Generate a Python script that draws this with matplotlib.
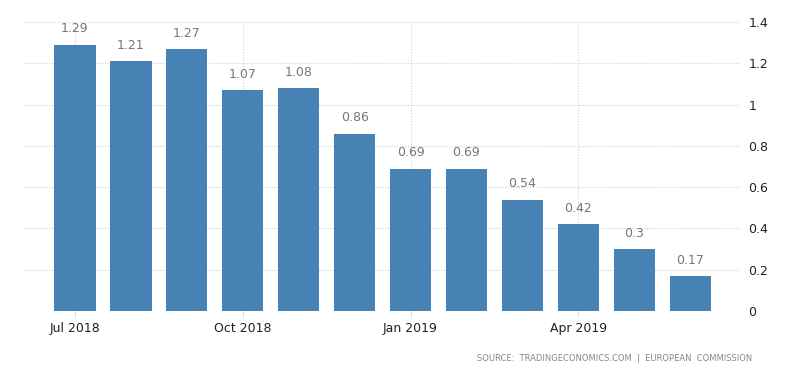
import numpy as np
import matplotlib.pyplot as plt

months = ["Jul 2018", "Aug 2018", "Sep 2018", "Oct 2018", "Nov 2018", "Dec 2018",
          "Jan 2019", "Feb 2019", "Mar 2019", "Apr 2019", "May 2019", "Jun 2019"]
values = [1.29, 1.21, 1.27, 1.07, 1.08, 0.86, 0.69, 0.69, 0.54, 0.42, 0.3, 0.17]
tick_idx = [0, 3, 6, 9]
y_ticks = [0, 0.2, 0.4, 0.6, 0.8, 1, 1.2, 1.4]
y_labels = ["0", "0.2", "0.4", "0.6", "0.8", "1", "1.2", "1.4"]

fig = plt.figure(figsize=(8, 3.73), dpi=100)
ax = fig.add_axes([0.03, 0.166, 0.895, 0.775])

x = np.arange(len(values))
ax.bar(x, values, width=0.74, color='#4682b4', zorder=2)

for xi, v in zip(x, values):
    ax.text(xi, v + 0.045, f"{v:g}", ha='center', va='bottom', fontsize=9, color='#777777')

ax.set_xlim(-0.91, 11.89)
ax.set_ylim(0, 1.4)
ax.set_xticks(tick_idx)
ax.set_xticklabels([months[i] for i in tick_idx], fontsize=9, color='#222222')
ax.set_yticks(y_ticks)
ax.set_yticklabels(y_labels, fontsize=9, color='#222222')
ax.yaxis.tick_right()
ax.tick_params(axis='y', length=0, pad=6)
ax.tick_params(axis='x', length=4, color='#dddddd', pad=4)

ax.grid(True, linestyle=(0, (1, 1.5)), color='#d0d0d0', linewidth=0.8, zorder=0)
ax.set_axisbelow(True)
for s in ax.spines.values():
    s.set_visible(False)

fig.text(0.94, 0.04, "SOURCE:  TRADINGECONOMICS.COM  |  EUROPEAN  COMMISSION",
         ha='right', va='center', fontsize=6, color='#888888')

fig.savefig('out.png', dpi=100)
